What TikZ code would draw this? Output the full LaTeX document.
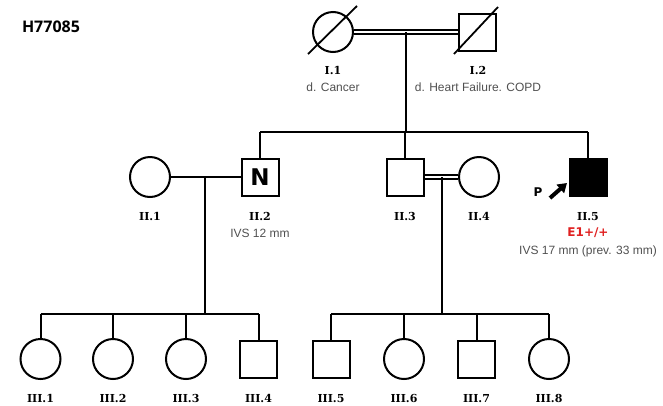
\documentclass[tikz,border=0pt]{standalone}
\usepackage{fontspec}
\setmainfont{Liberation Sans}
\newfontfamily\idfont{DejaVu Serif}
\newfontfamily\markfont{DejaVu Sans}
\newfontfamily\titlefont{Open Sans}
\definecolor{NoteGray}{HTML}{505050}
\definecolor{GeneRed}{HTML}{E02020}
\usepackage{tikz}
\usetikzlibrary{arrows.meta,positioning,calc}

\begin{document}
\begin{tikzpicture}[x=1pt,y=-1pt,>=Latex,line width=2pt]
\tikzstyle{fem}=[draw,circle,minimum size=40pt,inner sep=0pt]
\tikzstyle{mal}=[draw,rectangle,minimum size=37pt,inner sep=0pt]
\tikzstyle{aff}=[fill=black]
\tikzstyle{idlbl}=[font=\idfont\bfseries\fontsize{11}{13}\selectfont,inner sep=0pt,anchor=base]
\tikzstyle{note}=[font=\fontsize{12}{14}\selectfont,text=NoteGray,inner sep=0pt,anchor=base]
\tikzstyle{mate}=[line width=1.4pt,double,double distance=2.4pt]
\useasboundingbox (0,0) rectangle (663,405);
\node[font=\titlefont\bfseries\fontsize{16}{18}\selectfont,anchor=west,inner sep=0pt] (ttl) at (21,27) {H77085};
% generation I
\node[fem] (i1) at (333,32) {};
\node[mal] (i2) at (477,32) {};
\draw[line width=1.8pt] ($(i1)+(-25,22)$) -- ($(i1)+(24,-26)$);
\draw[line width=1.8pt] ($(i2)+(-23,22)$) -- ($(i2)+(21,-25)$);
\node[idlbl] (l1) at (333,74) {I.1};
\node[note] (n1) at (333,91) {d. Cancer};
\node[idlbl] (l2) at (478,74) {I.2};
\node[note] (n2) at (478,91) {d. Heart Failure. COPD};
\draw[mate] (i1) -- (i2);
\coordinate (c1) at (406,32);
\coordinate (s1) at (406,132);
% generation II
\node[fem] (ii1) at (150,177) {};
\node[mal,font=\markfont\bfseries\fontsize{23}{24}\selectfont] (ii2) at (260,177) {N};
\node[mal] (ii3) at (405,177) {};
\node[fem] (ii4) at (479,177) {};
\node[mal,aff] (ii5) at (588,177) {};
\draw (c1) -- (s1);
\draw (ii2 |- s1) -- (ii5 |- s1);
\draw (ii2 |- s1) -- (ii2);
\draw (ii3 |- s1) -- (ii3);
\draw (ii5 |- s1) -- (ii5);
\draw (ii1) -- (ii2);
\draw[mate] (ii3) -- (ii4);
\coordinate (c2) at (205,177);
\coordinate (c3) at (442,177);
\node[idlbl] (l3) at (150,220) {II.1};
\node[idlbl] (l4) at (260,220) {II.2};
\node[note] (n4) at (260,237) {IVS 12 mm};
\node[idlbl] (l5) at (405,220) {II.3};
\node[idlbl] (l6) at (479,220) {II.4};
\node[idlbl] (l7) at (588,220) {II.5};
\node[font=\markfont\bfseries\fontsize{12}{14}\selectfont,text=GeneRed,inner sep=0pt,anchor=base] (g7) at (588,236) {E1+/+};
\node[note] (n7) at (588,254) {IVS 17 mm (prev. 33 mm)};
\coordinate (pa) at (550,198);
\coordinate (pb) at (567,183);
\draw[-{Triangle[length=9pt,width=11pt]},line width=4pt] (pa) -- (pb);
\node[font=\markfont\bfseries\fontsize{12}{14}\selectfont,inner sep=0pt] (pp) at (538,192) {P};
% generation III
\node[fem] (iii1) at (40.5,359) {};
\node[fem] (iii2) at (113,359) {};
\node[fem] (iii3) at (186,359) {};
\node[mal] (iii4) at (258.5,359) {};
\node[mal] (iii5) at (331,359) {};
\node[fem] (iii6) at (404,359) {};
\node[mal] (iii7) at (476.5,359) {};
\node[fem] (iii8) at (549,359) {};
\coordinate (s2) at (205,314);
\coordinate (s3) at (442,314);
\draw (c2) -- (s2);
\draw (c3) -- (s3);
\draw (iii1 |- s2) -- (iii4 |- s2);
\draw (iii5 |- s3) -- (iii8 |- s3);
\foreach \k in {1,...,8}{
  \draw (iii\k |- s2) -- (iii\k);
}
\foreach \k/\x in {1/40.5,2/113,3/186,4/258.5,5/331,6/404,7/476.5,8/549}{
  \node[idlbl] (m\k) at (\x,402) {III.\k};
}
\end{tikzpicture}
\end{document}
